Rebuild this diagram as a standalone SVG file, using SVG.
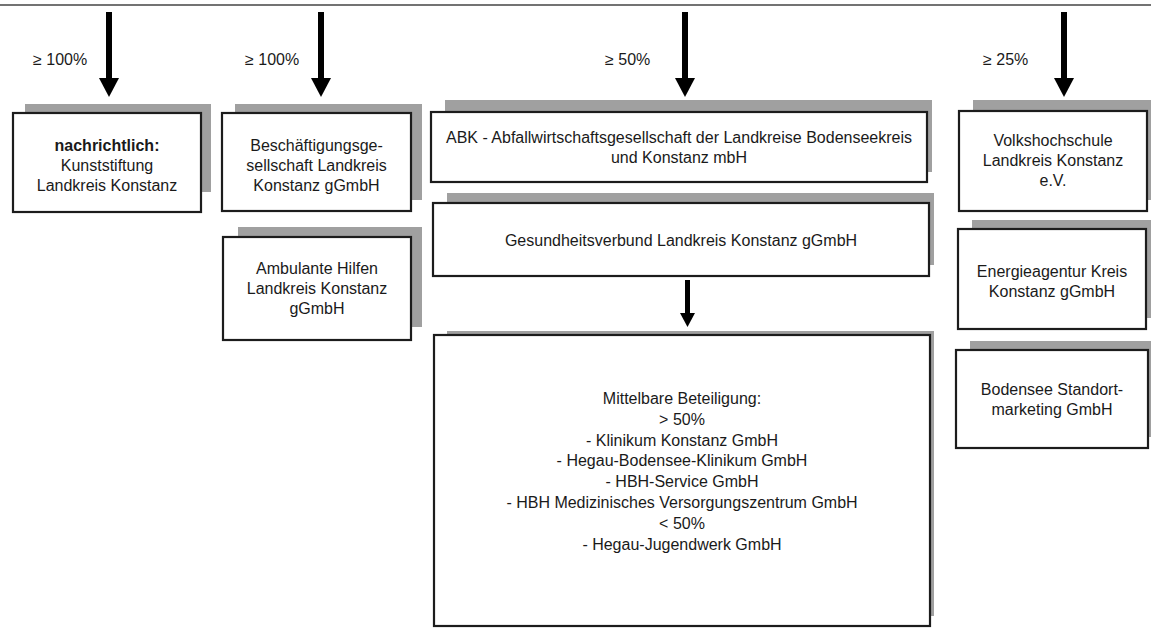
<svg xmlns="http://www.w3.org/2000/svg" width="1151" height="628" viewBox="0 0 1151 628">
<style>
.sh{fill:#a0a0a0}
.bx{fill:#fff;stroke:#1c1c1c;stroke-width:2.2}
.t{font-family:"Liberation Sans",Arial,sans-serif;font-size:16px;fill:#1a1a1a;text-anchor:middle}
.lb{font-family:"Liberation Sans",Arial,sans-serif;font-size:16px;fill:#1a1a1a}
.b{font-weight:bold}
.ar{stroke:#000;stroke-width:6;fill:none}
.ar2{stroke:#000;stroke-width:5;fill:none}
</style>
<defs>
<marker id="h" markerUnits="userSpaceOnUse" markerWidth="20" markerHeight="22" refX="1" refY="10" orient="auto" viewBox="0 0 20 22">
<path d="M0,0 L19,10 L0,20 z" fill="#000"/>
</marker>
<marker id="hs" markerUnits="userSpaceOnUse" markerWidth="16" markerHeight="16" refX="1" refY="7.5" orient="auto" viewBox="0 0 16 16">
<path d="M0,0 L14,7.5 L0,15 z" fill="#000"/>
</marker>
</defs>
<rect width="1151" height="628" fill="#fff"/>
<line x1="0" y1="5" x2="1151" y2="5" stroke="#444" stroke-width="1.5"/>
<g id="connectors">
<line class="ar" x1="109" y1="12" x2="109" y2="79" marker-end="url(#h)"/>
<line class="ar" x1="321" y1="12" x2="321" y2="79" marker-end="url(#h)"/>
<line class="ar" x1="685" y1="12" x2="685" y2="79" marker-end="url(#h)"/>
<line class="ar" x1="1064" y1="12" x2="1064" y2="79" marker-end="url(#h)"/>
<line class="ar2" x1="687.5" y1="280" x2="687.5" y2="314" marker-end="url(#hs)"/>
</g>
<g id="labels">
<text class="lb" x="33" y="65">≥ 100%</text>
<text class="lb" x="245" y="65">≥ 100%</text>
<text class="lb" x="605" y="65">≥ 50%</text>
<text class="lb" x="983" y="65">≥ 25%</text>
</g>
<g id="kunststiftung">
<rect class="sh" x="25" y="104" width="186" height="88"/>
<rect class="bx" x="13" y="113" width="188" height="99"/>
<text class="t" x="107" y="151"><tspan class="b">nachrichtlich:</tspan><tspan x="107" dy="20">Kunststiftung</tspan><tspan x="107" dy="20">Landkreis Konstanz</tspan></text>
</g>
<g id="beschaeftigung">
<rect class="sh" x="235" y="104" width="187" height="96"/>
<rect class="bx" x="222" y="113" width="189" height="98"/>
<text class="t" x="316.5" y="151">Beschäftigungsge-<tspan x="316.5" dy="20">sellschaft Landkreis</tspan><tspan x="316.5" dy="20">Konstanz gGmbH</tspan></text>
</g>
<g id="ambulante">
<rect class="sh" x="238" y="227" width="184" height="100"/>
<rect class="bx" x="223" y="237" width="188" height="103"/>
<text class="t" x="317" y="274">Ambulante Hilfen<tspan x="317" dy="20">Landkreis Konstanz</tspan><tspan x="317" dy="20">gGmbH</tspan></text>
</g>
<g id="abk">
<rect class="sh" x="445" y="100" width="487" height="72"/>
<rect class="bx" x="431" y="112" width="496" height="70"/>
<text class="t" x="679" y="143">ABK - Abfallwirtschaftsgesellschaft der Landkreise Bodenseekreis<tspan x="679" dy="20">und Konstanz mbH</tspan></text>
</g>
<g id="gesundheitsverbund">
<rect class="sh" x="447" y="193" width="487" height="72"/>
<rect class="bx" x="433" y="203" width="496" height="73"/>
<text class="t" x="681" y="246">Gesundheitsverbund Landkreis Konstanz gGmbH</text>
</g>
<g id="mittelbar">
<rect class="sh" x="447" y="331" width="487" height="285"/>
<rect class="bx" x="434" y="335" width="496" height="291"/>
<text class="t" x="682" y="404">Mittelbare Beteiligung:<tspan x="682" dy="20.8">&gt; 50%</tspan><tspan x="682" dy="20.8">- Klinikum Konstanz GmbH</tspan><tspan x="682" dy="20.8">- Hegau-Bodensee-Klinikum GmbH</tspan><tspan x="682" dy="20.8">- HBH-Service GmbH</tspan><tspan x="682" dy="20.8">- HBH Medizinisches Versorgungszentrum GmbH</tspan><tspan x="682" dy="20.8">&lt; 50%</tspan><tspan x="682" dy="20.8">- Hegau-Jugendwerk GmbH</tspan></text>
</g>
<g id="vhs">
<rect class="sh" x="973" y="100" width="178" height="100"/>
<rect class="bx" x="959" y="111" width="188" height="100"/>
<text class="t" x="1053" y="146">Volkshochschule<tspan x="1053" dy="20">Landkreis Konstanz</tspan><tspan x="1053" dy="20">e.V.</tspan></text>
</g>
<g id="energie">
<rect class="sh" x="972" y="220" width="179" height="98"/>
<rect class="bx" x="958" y="229" width="188" height="100"/>
<text class="t" x="1052" y="277">Energieagentur Kreis<tspan x="1052" dy="20">Konstanz gGmbH</tspan></text>
</g>
<g id="bodensee">
<rect class="sh" x="970" y="341" width="181" height="96"/>
<rect class="bx" x="956" y="350" width="192" height="98"/>
<text class="t" x="1052" y="395">Bodensee Standort-<tspan x="1052" dy="20">marketing GmbH</tspan></text>
</g>
</svg>
